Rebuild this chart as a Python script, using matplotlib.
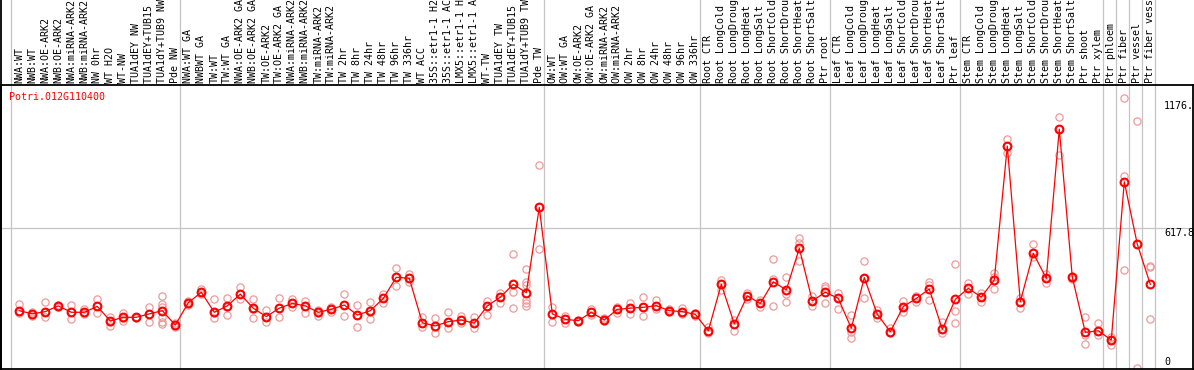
import numpy as np
import matplotlib
matplotlib.use("Agg")
import matplotlib.pyplot as plt

plt.rcParams['font.family'] = ['DejaVu Sans Mono']

gene = "Potri.012G110400"

labels = ["NWA:WT", "NWB:WT", "NWA:OE-ARK2", "NWB:OE-ARK2", "NWA:miRNA-ARK2", "NWB:miRNA-ARK2",
          "NW 0hr", "WT H2O", "WT-NW", "TUA1dEY NW", "TUA1dEY+TUB15 NW", "TUA1dY+TUB9 NW", "Pde NW",
          "NWA:WT GA", "NWBWT GA", "TW:WT", "TW:WT GA", "NWA:OE-ARK2 GA", "NWB:OE-ARK2 GA",
          "TW:OE-ARK2", "TW:OE-ARK2 GA", "NWA:miRNA-ARK2 GA", "NWB:miRNA-ARK2 GA", "TW:miRNA-ARK2",
          "TW:miRNA-ARK2 GA", "TW 2hr", "TW 8hr", "TW 24hr", "TW 48hr", "TW 96hr", "TW 336hr", "WT ACC",
          "35S::etr1-1 H2O", "35S::etr1-1 ACC", "LMX5::etr1-1 H2O", "LMX5::etr1-1 ACC", "WT-TW",
          "TUA1dEY TW", "TUA1dEY+TUB15 TW", "TUA1dY+TUB9 TW", "Pde TW",
          "OW:WT", "OW:WT GA", "OW:OE-ARK2", "OW:OE-ARK2 GA", "OW:miRNA-ARK2", "OW:miRNA-ARK2 GA",
          "OW 2hr", "OW 8hr", "OW 24hr", "OW 48hr", "OW 96hr", "OW 336hr",
          "Root CTR", "Root LongCold", "Root LongDrought", "Root LongHeat", "Root LongSalt",
          "Root ShortCold", "Root ShortDrought", "Root ShortHeat", "Root ShortSalt", "Ptr root",
          "Leaf CTR", "Leaf LongCold", "Leaf LongDrought", "Leaf LongHeat", "Leaf LongSalt",
          "Leaf ShortCold", "Leaf ShortDrought", "Leaf ShortHeat", "Leaf ShortSalt", "Ptr leaf",
          "Stem CTR", "Stem LongCold", "Stem LongDrought", "Stem LongHeat", "Stem LongSalt",
          "Stem ShortCold", "Stem ShortDrought", "Stem ShortHeat", "Stem ShortSalt", "Ptr shoot", "Ptr xylem",
          "Ptr phloem", "Ptr fiber", "Ptr vessel", "Ptr fiber vessel"]

means = [256, 242, 252, 277, 249, 249, 275, 211, 227, 227, 242, 256, 193,
         291, 337, 249, 277, 329, 267, 230, 267, 288, 277, 249, 262, 281, 237, 256, 310, 403,
         398, 203, 189, 208, 215, 201, 277, 315, 372, 335, 710,
         242, 218, 212, 249, 215, 262, 267, 271, 278, 256, 252, 240,
         168, 372, 198, 321, 288, 383, 347, 530, 299, 337,
         310, 179, 401, 240, 164, 274, 310, 351, 174, 306,
         354, 316, 391, 979, 296, 508, 398, 1053, 403, 161, 168,
         127, 822, 548, 372]

reps = [[285, 255, 246], [249, 237, 234], [293, 252, 227], [281, 274, 272], [281, 249, 218],
        [263, 245, 240], [307, 278, 245], [230, 208, 190], [247, 223, 211], [230, 227, 225],
        [271, 242, 208], [321, 285, 272, 228, 206, 198], [201, 190, 186],
        [300, 288, 281], [350, 337, 329], [306, 247, 223], [310, 274, 237], [359, 329, 307],
        [306, 262, 223], [259, 230, 205], [310, 267, 227], [307, 288, 271], [300, 277, 247],
        [259, 245, 234], [274, 262, 252], [328, 281, 233], [281, 237, 186], [293, 259, 218],
        [329, 310, 291], [442, 403, 364], [417, 398, 383], [230, 203, 186], [223, 186, 159],
        [252, 208, 179], [233, 215, 203], [227, 201, 179], [300, 277, 237], [335, 315, 291],
        [504, 372, 339, 267], [438, 383, 369, 303, 291, 277], [896, 710, 526],
        [274, 242, 208], [233, 218, 203], [216, 212, 208], [262, 249, 237], [223, 215, 211],
        [274, 262, 245], [291, 267, 242], [315, 271, 233], [303, 278, 262], [262, 256, 249],
        [267, 252, 242], [247, 240, 233],
        [186, 168, 157], [391, 372, 347], [215, 198, 168], [335, 321, 306], [303, 288, 274],
        [482, 394, 277], [403, 329, 296], [574, 552, 476], [321, 299, 277], [364, 354, 291],
        [335, 312, 262], [237, 164, 135], [474, 401, 310], [259, 240, 223], [179, 164, 157],
        [300, 274, 249], [321, 310, 296], [383, 369, 303], [208, 174, 157], [460, 255, 201],
        [376, 354, 328], [332, 316, 296], [420, 405, 350], [1009, 979, 947], [310, 296, 269],
        [548, 508, 490], [417, 398, 379], [1105, 1053, 940], [408, 403, 397], [227, 149, 108],
        [201, 168, 149],
        [142, 127, 105], [1189, 847, 435], [1090, 548, 3], [451, 447, 218]]

group_breaks = [0, 13, 41, 53, 63, 73, 84, 85, 86, 87, 88]
ymax = 1247
ref_lines = [1176, 617.8, 0]
ref_text = ["1176.", "617.8", "0"]

W, H = 1194, 370
fig = plt.figure(figsize=(W / 100, H / 100), dpi=100)
ax = fig.add_axes([1 / W, 1 / H, 1192 / W, 284 / H])
ax.set_xlim(-1.408, 90.285)
ax.set_ylim(0, ymax)
ax.set_xticks([])
ax.set_yticks([])
for s in ax.spines.values():
    s.set_linewidth(1.3)
    s.set_color('black')

grid_c = '#c4c4c4'
for b in group_breaks:
    ax.axvline(b - 0.615, ymin=0, ymax=369 / 284, color=grid_c, lw=0.9, clip_on=False, zorder=1)
ax.axhline(617.8, color=grid_c, lw=0.9, zorder=1)
# left frame line runs up through the label area
ax.axvline(-1.408, ymin=0, ymax=370 / 284, color='black', lw=1.3, clip_on=False)

x = np.arange(len(means))
for i, r in enumerate(reps):
    ax.plot(np.full(len(r), i), r, 'o', mfc='none', mec='#ee9a9a', ms=5.2, mew=0.9, zorder=2)
ax.plot(x, means, '-', color='red', lw=0.9, zorder=3)
ax.plot(x, means, 'o', mfc='none', mec='red', ms=5.6, mew=1.5, zorder=4)

# sample names, vertical, above the plot
tr = ax.get_xaxis_transform()
for i, lab in enumerate(labels):
    ax.text(i, 1 + 2 / 284, lab, rotation=90, ha='center', va='bottom', fontsize=7.2,
            transform=tr, clip_on=False)

yt = ax.get_yaxis_transform()
for v, t in zip(ref_lines, ref_text):
    ax.text(1163 / 1192, v + (10 if v == 0 else 0), t, ha='left',
            va='bottom' if v == 0 else 'top', fontsize=7.2, transform=yt)

fig.text(9 / W, 1 - 97 / H, gene, color='red', fontsize=7.2, va='center', ha='left')

fig.savefig('out.png', dpi=100)
